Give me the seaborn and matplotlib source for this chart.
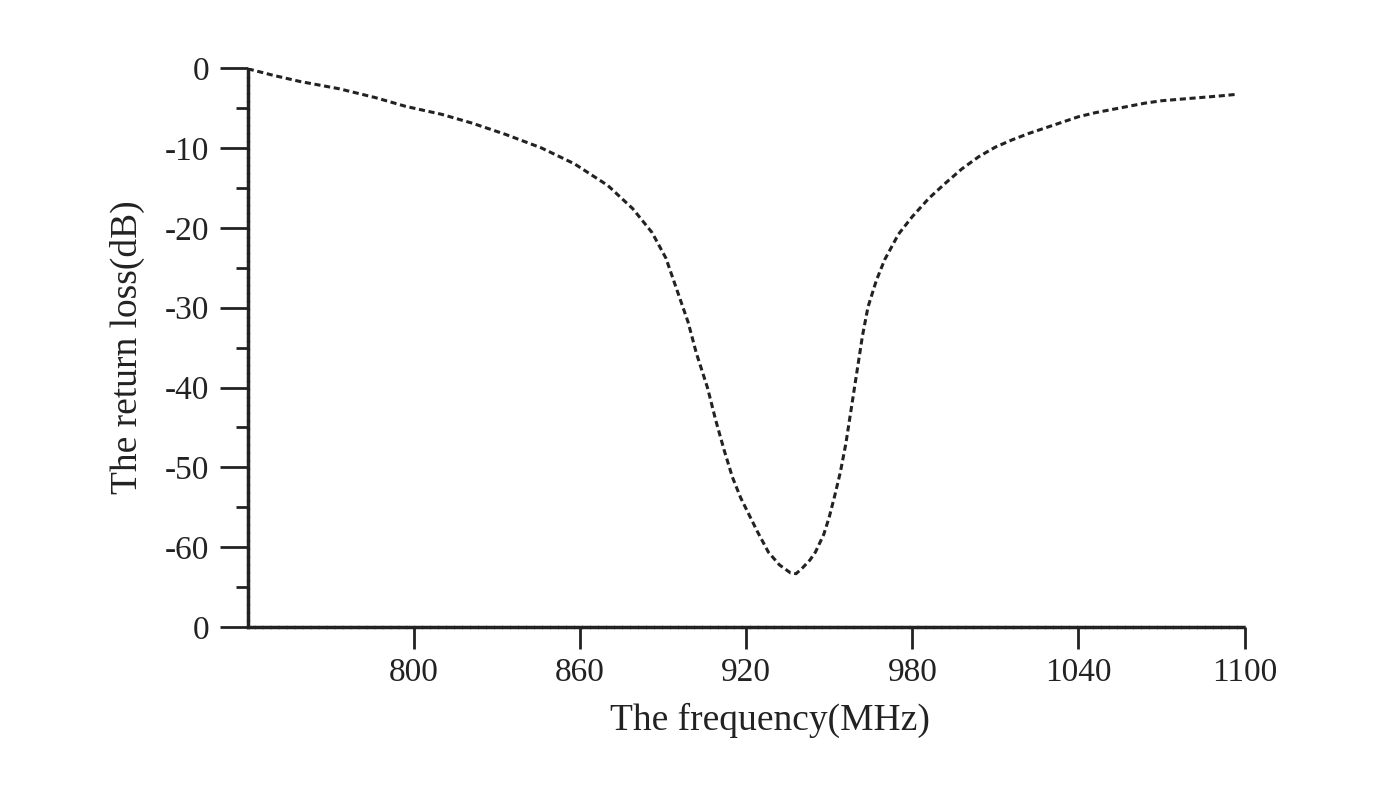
import matplotlib
matplotlib.use("Agg")
import matplotlib.pyplot as plt
import seaborn as sns
import pandas as pd
from matplotlib.ticker import MultipleLocator

freq_mhz = [740, 749, 759, 773, 786, 797, 810, 821, 833, 846, 858, 870, 879, 886,
            891, 895, 899, 902, 906, 909, 912, 915, 918, 920, 924, 928, 932, 936,
            938, 940, 943, 945, 948, 950, 952, 954, 956, 958, 960, 962, 964, 967,
            970, 975, 980, 986, 992, 998, 1004, 1010, 1016, 1022, 1028, 1034,
            1040, 1046, 1052, 1058, 1064, 1070, 1077, 1084, 1091, 1097]
return_loss_db = [-0.1, -0.9, -1.7, -2.6, -3.7, -4.8, -5.8, -6.9, -8.3, -10.0, -12.0,
                  -14.7, -17.6, -20.6, -23.8, -27.8, -31.8, -35.7, -40.0, -44.1,
                  -47.8, -51.2, -53.8, -55.2, -58.0, -60.6, -62.2, -63.2, -63.3,
                  -62.7, -61.6, -60.6, -58.4, -56.2, -53.5, -50.6, -47.0, -42.5,
                  -38.0, -33.5, -29.9, -26.6, -24.0, -20.8, -18.6, -16.3, -14.4,
                  -12.6, -11.1, -9.9, -9.0, -8.2, -7.5, -6.8, -6.1, -5.6, -5.2,
                  -4.8, -4.4, -4.1, -3.9, -3.7, -3.5, -3.3]

x_ticks = [800, 860, 920, 980, 1040, 1100]
x_tick_labels = ["800", "860", "920", "980", "1040", "1100"]
y_ticks = [0, -10, -20, -30, -40, -50, -60, -70]
y_tick_labels = ["0", "-10", "-20", "-30", "-40", "-50", "-60", "0"]

x_label = "The frequency(MHz)"
y_label = "The return loss(dB)"

df = pd.DataFrame({"freq": freq_mhz, "rl": return_loss_db})

sns.set_theme(style="ticks")
plt.rcParams["font.family"] = ["Liberation Serif", "DejaVu Serif"]
plt.rcParams["axes.unicode_minus"] = False

fig = plt.figure(figsize=(14, 8), dpi=100)
ax = fig.add_axes([0.177, 0.216, 0.712, 0.699])

sns.lineplot(data=df, x="freq", y="rl", ax=ax, color="#222222",
             linewidth=2.2, linestyle=(0, (2, 1.2)))

ax.set_xlim(740, 1100)
ax.set_ylim(-70, 0)
ax.set_xticks(x_ticks)
ax.set_xticklabels(x_tick_labels)
ax.set_yticks(y_ticks)
ax.set_yticklabels(y_tick_labels)
ax.yaxis.set_minor_locator(MultipleLocator(5))

for side in ["top", "right"]:
    ax.spines[side].set_visible(False)
for side in ["left", "bottom"]:
    ax.spines[side].set_linewidth(2.5)
    ax.spines[side].set_linestyle((0, (1.5, 0.8)))
    ax.spines[side].set_color("#222222")

ax.tick_params(axis="y", which="major", length=20, width=2, direction="out",
               labelsize=24, colors="#222222", pad=8)
ax.tick_params(axis="y", which="minor", length=9, width=2, direction="out",
               colors="#222222")
ax.tick_params(axis="x", which="major", length=16, width=2, direction="out",
               labelsize=24, colors="#222222", pad=6)

ax.set_xlabel(x_label, fontsize=27, color="#222222", labelpad=10)
ax.set_ylabel(y_label, fontsize=27, color="#222222", labelpad=14)
ax.xaxis.set_label_coords(0.524, -0.135)

fig.savefig("out.png", dpi=100, facecolor="white")
